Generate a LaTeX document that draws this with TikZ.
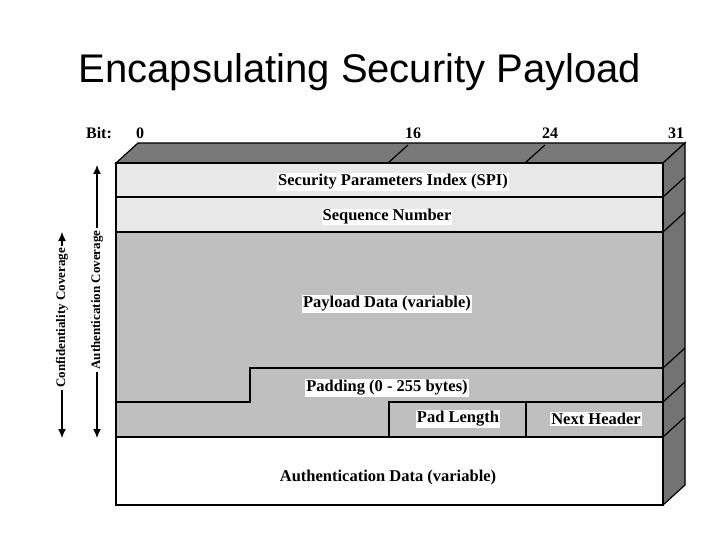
\documentclass[tikz,border=0pt]{standalone}
\usepackage{fontspec}
\setmainfont{Liberation Serif}
\newfontfamily\titlefont{Liberation Sans}
\usetikzlibrary{arrows.meta}
\begin{document}
\begin{tikzpicture}[x=1pt,y=-1pt,
  lab/.style={fill=white,inner sep=1pt,font=\bfseries\fontsize{16.5}{18}\selectfont},
  bitlab/.style={font=\bfseries\fontsize{16}{18}\selectfont},
  face/.style={draw=black,line width=1.2pt},
  cov/.style={line width=1.2pt,-{Latex[length=9pt,width=8pt]}}]
\useasboundingbox (0,0) rectangle (720,540);
\node[font=\titlefont\fontsize{40}{46}\selectfont] (title) at (360,72) {Encapsulating Security Payload};
% top face
\draw[face,fill=gray!95!black] (116,163) -- (138,143) -- (685,143) -- (663,163) -- cycle;
\draw[face] (388,163) -- (408,145);
\draw[face] (525,163) -- (545,145);
% right face
\draw[face,fill=gray!90!black] (663,163) -- (685,143) -- (685,485) -- (663,505) -- cycle;
\foreach \y in {197,232,368,402,437} \draw[face] (663,\y) -- (685,\y-20);
% rows
\draw[face,fill=gray!18] (116,163) rectangle (663,197);
\draw[face,fill=gray!18] (116,197) rectangle (663,232);
\fill[gray!50] (116,232) rectangle (663,437);
\draw[face] (116,402) -- (250,402) -- (250,368) -- (663,368);
\draw[face] (389,437) -- (389,402) -- (663,402);
\draw[face] (526,402) -- (526,437);
\draw[face] (116,232) -- (663,232);
\draw[face,fill=white] (116,437) rectangle (663,505);
\draw[face] (116,163) rectangle (663,505);
% labels
\node[lab] (spi) at (393,182) {Security Parameters Index (SPI)};
\node[lab] (seq) at (387,217) {Sequence Number};
\node[lab] (pay) at (387,304) {Payload Data (variable)};
\node[lab] (pad) at (387,388) {Padding (0 - 255 bytes)};
\node[lab] (pl) at (458,419) {Pad Length};
\node[lab] (nh) at (596,419) {Next Header};
\node[lab] (ad) at (388,478) {Authentication Data (variable)};
% bits
\node[bitlab] (bit) at (99,133) {Bit:};
\node[bitlab] (b0) at (140,133) {0};
\node[bitlab] (b16) at (413,133) {16};
\node[bitlab] (b24) at (550,133) {24};
\node[bitlab] (b31) at (676,133) {31};
% coverage
\node[rotate=90,inner sep=2pt,font=\bfseries\fontsize{13}{15}\selectfont] (auth) at (97,300) {Authentication Coverage};
\node[rotate=90,inner sep=2pt,font=\bfseries\fontsize{13}{15}\selectfont] (conf) at (62,318) {Confidentiality Coverage};
\draw[cov] (auth.east) -- (97,165);
\draw[cov] (auth.west) -- (97,438);
\draw[cov] (conf.east) -- (62,232);
\draw[cov] (conf.west) -- (62,438);
\end{tikzpicture}
\end{document}
